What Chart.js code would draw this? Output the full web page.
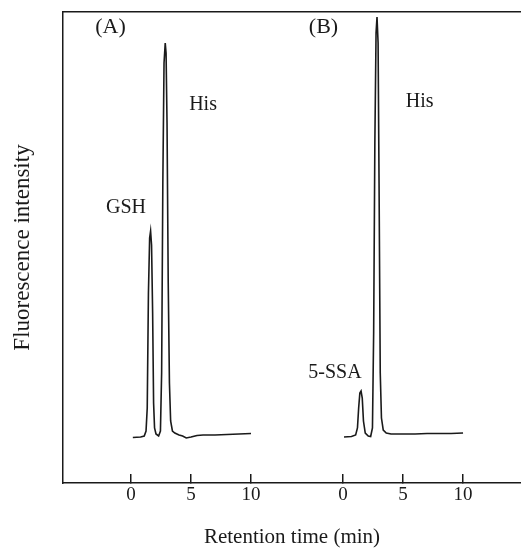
<!DOCTYPE html>
<html>
<head>
<meta charset="utf-8">
<script src="https://cdn.jsdelivr.net/npm/chart.js@4.4.1/dist/chart.umd.min.js"></script>
<style>
  html, body { margin: 0; padding: 0; background: #fff; }
  #wrap { width: 521px; height: 548px; }
</style>
</head>
<body>
<div id="wrap"><canvas id="chromChart" width="521" height="548"></canvas></div>
<script>
// (A) chromatogram: retention time (min) and detector response
const timeA = [0.15, 0.8, 1.1, 1.25, 1.35, 1.45, 1.55, 1.63, 1.71, 1.8, 1.88, 1.96, 2.08, 2.3, 2.45, 2.55, 2.65, 2.75, 2.85, 2.92, 3.0, 3.1, 3.2, 3.3, 3.45, 3.65, 4.0, 4.3, 4.6, 5.0, 5.5, 6.0, 7.0, 8.0, 9.0, 10.0];
const signalA = [45.5, 46, 47, 52, 75, 190, 245, 252, 238, 170, 80, 55, 49, 47, 52, 110, 300, 420, 440, 430, 360, 200, 100, 62, 52, 50, 48, 47, 45, 46, 47.5, 48, 48, 48.5, 49, 49.5];

// (B) chromatogram
const timeB = [0.08, 0.7, 1.05, 1.2, 1.3, 1.4, 1.5, 1.6, 1.7, 1.85, 2.1, 2.3, 2.45, 2.55, 2.65, 2.75, 2.83, 2.92, 3.0, 3.1, 3.2, 3.35, 3.6, 4.0, 5.0, 6.0, 7.0, 8.0, 9.0, 10.0];
const signalB = [46, 46.5, 48, 55, 75, 90, 92, 85, 62, 50, 47, 46.5, 55, 150, 340, 450, 466, 440, 300, 110, 65, 53, 50, 49, 49, 49, 49.5, 49.5, 49.5, 50];

const tickValues = [0, 5, 10];
const panelOffsets = [0, 17.67];   // panel B is drawn further right on the same axis

// peak labels: [text, panel, time, signal]
const notes = [
    ['(A)', 0, -1.71, 456],
    ['(B)', 1, -1.63, 456],
    ['His', 0, 6.0, 378],
    ['His', 1, 6.38, 381],
    ['GSH', 0, -0.42, 275],
    ['5-SSA', 1, -0.67, 110]
];

const INK = '#1a1a1a';
const SERIF = '"Liberation Serif", "DejaVu Serif", serif';
const X_MIN = -5.67;
const X_MAX = 32.5;

function toPoints(times, values, offset) {
    return times.map((t, i) => ({ x: t + offset, y: values[i] }));
}

const allTicks = [];
panelOffsets.forEach(off => tickValues.forEach(v => allTicks.push(v + off)));

// 注記ラベル
const notePlugin = {
    id: 'notes',
    afterDatasetsDraw(chart) {
        const ctx = chart.ctx;
        const xs = chart.scales.x;
        const ys = chart.scales.y;
        ctx.save();
        ctx.fillStyle = INK;
        ctx.textAlign = 'center';
        ctx.textBaseline = 'middle';
        notes.forEach(([text, panel, t, v]) => {
            ctx.font = (text[0] === '(' ? '22px ' : '20px ') + SERIF;
            ctx.fillText(text, xs.getPixelForValue(t + panelOffsets[panel]), ys.getPixelForValue(v));
        });
        ctx.restore();
    }
};

new Chart(document.getElementById('chromChart').getContext('2d'), {
    type: 'line',
    data: {
        datasets: [
            { data: toPoints(timeA, signalA, panelOffsets[0]) },
            { data: toPoints(timeB, signalB, panelOffsets[1]) }
        ]
    },
    options: {
        responsive: false,
        animation: false,
        layout: { padding: 0 },
        elements: {
            line: { borderColor: INK, borderWidth: 1.6, tension: 0, fill: false },
            point: { radius: 0 }
        },
        plugins: {
            legend: { display: false },
            tooltip: { enabled: false }
        },
        scales: {
            x: {
                type: 'linear',
                position: 'bottom',
                min: X_MIN,
                max: X_MAX,
                afterBuildTicks: s => { s.ticks = allTicks.map(v => ({ value: v })); },
                afterFit: s => { s.height = 65; },
                grid: { drawOnChartArea: false, drawTicks: true, tickLength: -9, color: INK, lineWidth: 1.5 },
                border: { display: true, color: INK, width: 1.5 },
                ticks: {
                    padding: 10,
                    color: INK,
                    font: { family: SERIF, size: 19 },
                    callback: v => String(Math.round(v >= panelOffsets[1] - 5 ? v - panelOffsets[1] : v))
                },
                title: {
                    display: true,
                    text: 'Retention time (min)',
                    color: INK,
                    font: { family: SERIF, size: 21 },
                    padding: { top: 0, bottom: -2 }
                }
            },
            x2: {
                type: 'linear',
                position: 'top',
                min: X_MIN,
                max: X_MAX,
                afterFit: s => { s.height = 12; },
                grid: { drawOnChartArea: false, drawTicks: false },
                border: { display: true, color: INK, width: 1.5 },
                ticks: { display: false }
            },
            y: {
                type: 'linear',
                position: 'left',
                min: 0,
                max: 471,
                afterFit: s => { s.width = 63; },
                grid: { drawOnChartArea: false, drawTicks: false },
                border: { display: true, color: INK, width: 1.5 },
                ticks: { display: false },
                title: {
                    display: true,
                    text: 'Fluorescence intensity',
                    color: INK,
                    font: { family: SERIF, size: 23 },
                    padding: { top: 9, bottom: 0 }
                }
            }
        }
    },
    plugins: [notePlugin]
});
</script>
</body>
</html>
